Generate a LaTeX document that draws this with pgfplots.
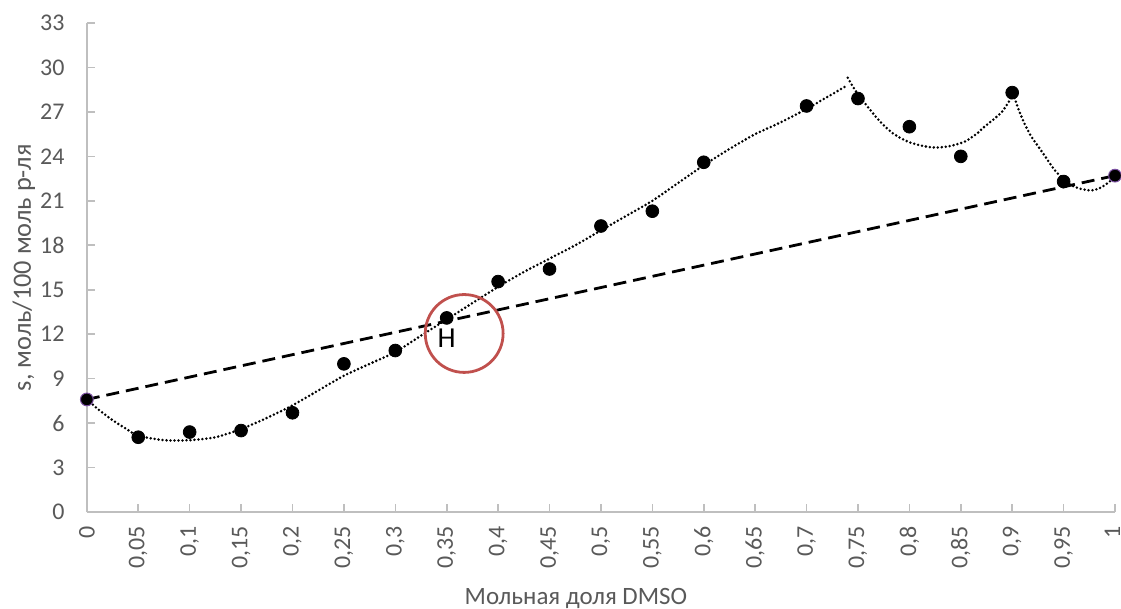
\documentclass[border=0pt]{standalone}
\usepackage{pgfplots}
\pgfplotsset{compat=1.18}
\usepackage{fontspec}
\setmainfont{Carlito}

\definecolor{axisgray}{HTML}{BFBFBF}
\definecolor{textgray}{HTML}{595959}
\definecolor{circred}{HTML}{C0504D}
\definecolor{edgeviolet}{HTML}{7A4FA0}

\begin{document}
\begin{tikzpicture}
% page frame, in pt (1 px = 0.5 pt)
\useasboundingbox (-43.5pt,-48.5pt) rectangle (518pt,256.5pt);
\begin{axis}[
  at={(0,0)}, anchor=south west,
  scale only axis,
  width=515pt, height=245pt,
  xmin=0, xmax=1, ymin=0, ymax=33,
  clip=false,
  axis x line=bottom, axis y line=left,
  axis line style={-, draw=axisgray, line width=0.8pt},
  tick align=inside,
  major tick length=4pt,
  tick style={draw=axisgray, line width=0.8pt},
  xtick={0,0.05,0.1,0.15,0.2,0.25,0.3,0.35,0.4,0.45,0.5,0.55,0.6,0.65,0.7,0.75,0.8,0.85,0.9,0.95,1},
  xticklabels={0,{0,05},{0,1},{0,15},{0,2},{0,25},{0,3},{0,35},{0,4},{0,45},{0,5},{0,55},{0,6},{0,65},{0,7},{0,75},{0,8},{0,85},{0,9},{0,95},{\raisebox{2.5pt}{1}}},
  ytick={0,3,6,9,12,15,18,21,24,27,30,33},
  /pgf/number format/assume math mode=true,
  xticklabel style={yshift=-7pt, rotate=90, anchor=east, inner sep=0pt,
    text=textgray, font=\fontsize{12}{14}\selectfont},
  yticklabel style={anchor=east, inner sep=0pt, xshift=-11pt,
    text=textgray, font=\fontsize{12}{14}\selectfont},
  xlabel={Мольная доля DMSO},
  xlabel style={at={(axis description cs:0.4757,0)}, anchor=base, yshift=-46.5pt,
    text=textgray, font=\fontsize{12.5}{14}\selectfont, inner sep=0pt},
]
% linear reference between the pure components
\addplot[black, line width=1.4pt, dash pattern=on 6.5pt off 3.5pt] coordinates {(0,7.6) (1,22.7)};

% dotted trend, three pieces
\addplot[black, line width=1.4pt, line cap=round, dash pattern=on 0pt off 2pt, smooth, tension=0.4] coordinates {
(0,7.6) (0.0125,6.85) (0.025,6.2) (0.0375,5.65) (0.05,5.15) (0.075,4.85) (0.1,4.85)
(0.125,5.05) (0.15,5.6) (0.175,6.35) (0.2,7.2) (0.225,8.2) (0.25,9.2) (0.275,10.0)
(0.3,10.8) (0.325,11.9) (0.35,13.0) (0.375,14.1) (0.4,15.2) (0.425,16.2) (0.45,17.1)
(0.475,18.0) (0.5,19.0) (0.525,20.0) (0.55,21.0) (0.575,22.2) (0.6,23.4) (0.625,24.5)
(0.65,25.5) (0.675,26.3) (0.7,27.2) (0.72,28.0) (0.74,28.8)};
\addplot[black, line width=1.4pt, line cap=round, dash pattern=on 0pt off 2pt, smooth, tension=0.4] coordinates {
(0.740,29.3) (0.746,28.6) (0.752,28.0) (0.76,27.3) (0.767,26.7) (0.775,26.1) (0.783,25.6)
(0.791,25.25) (0.8,24.95) (0.81,24.75) (0.82,24.62) (0.828,24.6) (0.84,24.7) (0.854,25.0)
(0.865,25.5) (0.873,26.0) (0.882,26.5) (0.89,27.0) (0.896,27.6) (0.901,28.2)};
\addplot[black, line width=1.4pt, line cap=round, dash pattern=on 0pt off 2pt, smooth, tension=0.4] coordinates {
(0.901,28.2) (0.906,27.2) (0.912,26.2) (0.918,25.4) (0.925,24.7) (0.933,23.9) (0.941,23.1)
(0.951,22.35) (0.959,22.0) (0.967,21.8) (0.977,21.7) (0.985,21.85) (0.992,22.15) (1.0,22.6)};

% measured solubility
\addplot[only marks, mark=*, mark size=3.2pt, mark options={fill=black, draw=black}] coordinates {
(0.05,5.05) (0.1,5.4) (0.15,5.5) (0.2,6.7) (0.25,10.0) (0.3,10.9) (0.35,13.1) (0.4,15.55)
(0.45,16.4) (0.5,19.3) (0.55,20.3) (0.6,23.6) (0.7,27.4) (0.75,27.9) (0.8,26.0)
(0.85,24.0) (0.9,28.3) (0.95,22.3)};
% pure components
\addplot[only marks, mark=*, mark size=3.2pt, mark options={fill=black, draw=edgeviolet, line width=0.5pt}] coordinates {
(0,7.6) (1,22.7)};

% highlighted intersection
\draw[circred, line width=1.4pt] (axis cs:0.367,12.05) circle[radius=19.5pt];
\node[font=\fontsize{14.5}{16}\selectfont, inner sep=0pt] at (axis cs:0.35,11.7) {H};

% y axis title
\node[rotate=90, anchor=base, inner sep=0pt, text=textgray, font=\fontsize{13.2}{15}\selectfont]
  at ([xshift=-28pt]axis description cs:0,0.5) {s, моль/100 моль р-ля};
\end{axis}
\end{tikzpicture}
\end{document}
